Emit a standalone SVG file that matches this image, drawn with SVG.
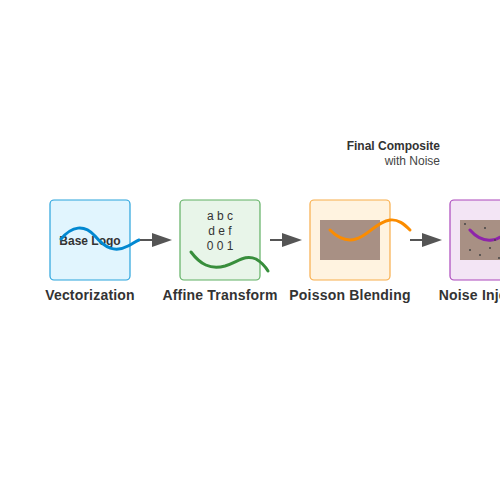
<svg xmlns="http://www.w3.org/2000/svg" width="500" height="500" viewBox="0 0 500 500">
<style>
text{font-family:"Liberation Sans",Arial,sans-serif;fill:#333}
.lbl{font-size:14px;font-weight:bold;text-anchor:middle;letter-spacing:0.2px}
.box{stroke-width:1.2}
.arr{stroke:#555;stroke-width:2;fill:none}
.wave{fill:none;stroke-width:3;stroke-linecap:round}
.inner{fill:#a89084}
.dot{fill:#444}
</style>
<defs>
<marker id="ah" markerWidth="20" markerHeight="14" refX="0" refY="7" orient="auto" markerUnits="userSpaceOnUse">
<path d="M0,0 L20,7 L0,14 Z" fill="#555"/>
</marker>
</defs>
<rect width="500" height="500" fill="#fff"/>
<g id="node-vectorization">
<rect class="box" x="50" y="200" width="80" height="80" rx="4" fill="#e1f5fe" stroke="#29a3dc"/>
<text x="90" y="245" font-size="12" font-weight="bold" text-anchor="middle">Base Logo</text>
<path class="wave" d="M61,239 C72,226 84,224 95,236 C105,248 115,253 128,246 C132,244 136,241 139,240" stroke="#0288d1"/>
<text class="lbl" x="90" y="300">Vectorization</text>
</g>
<g id="node-affine">
<rect class="box" x="180" y="200" width="80" height="80" rx="4" fill="#e8f5e9" stroke="#5fb063"/>
<text x="220" y="220" font-size="12" text-anchor="middle">a b c</text>
<text x="220" y="235" font-size="12" text-anchor="middle">d e f</text>
<text x="220" y="250" font-size="12" text-anchor="middle">0 0 1</text>
<path class="wave" d="M191,252 C200,264 210,270 225,266 C238,262 245,254 256,259 C261,262 265,266 268,271" stroke="#388e3c"/>
<text class="lbl" x="220" y="300">Affine Transform</text>
</g>
<g id="node-poisson">
<rect class="box" x="310" y="200" width="80" height="80" rx="4" fill="#fff3e0" stroke="#f8ad4a"/>
<rect class="inner" x="320" y="220" width="60" height="40"/>
<path class="wave" d="M330,230 C338,238 346,242 356,239 C368,236 376,222 390,220 C398,219 404,224 410,230" stroke="#fb8c00"/>
<text class="lbl" x="350" y="300">Poisson Blending</text>
</g>
<g id="node-noise">
<rect class="box" x="450" y="200" width="80" height="80" rx="4" fill="#f3e5f5" stroke="#ab47bc"/>
<rect class="inner" x="460" y="220" width="60" height="40"/>
<path class="wave" d="M470,230 C476,237 484,241 492,240 C500,239 506,233 510,228" stroke="#8e24aa"/>
<circle class="dot" cx="465" cy="224" r="1"/>
<circle class="dot" cx="485" cy="228" r="1"/>
<circle class="dot" cx="495" cy="240" r="1"/>
<circle class="dot" cx="470" cy="250" r="1"/>
<circle class="dot" cx="480" cy="255" r="1"/>
<circle class="dot" cx="490" cy="248" r="1"/>
<circle class="dot" cx="499" cy="258" r="1"/>
<text class="lbl" x="490" y="300">Noise Injection</text>
</g>
<g id="node-final">
<text x="440" y="150" font-size="12" font-weight="bold" text-anchor="end">Final Composite</text>
<text x="440" y="165" font-size="12" text-anchor="end" style="fill:#444">with Noise</text>
</g>
<g id="connectors">
<line class="arr" x1="140" y1="240" x2="152" y2="240" marker-end="url(#ah)"/>
<line class="arr" x1="270" y1="240" x2="282" y2="240" marker-end="url(#ah)"/>
<line class="arr" x1="410" y1="240" x2="422" y2="240" marker-end="url(#ah)"/>
</g>
</svg>
